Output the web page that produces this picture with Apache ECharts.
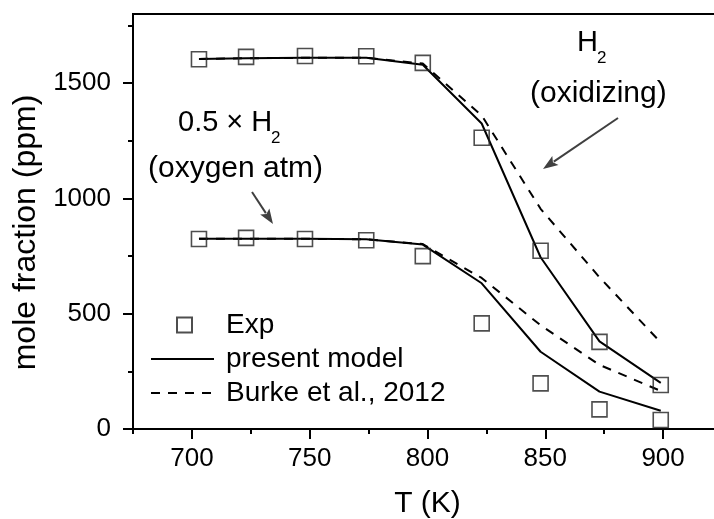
<!DOCTYPE html>
<html><head><meta charset="utf-8">
<script src="https://cdn.jsdelivr.net/npm/echarts@6/dist/echarts.min.js"></script>
<style>html,body{margin:0;padding:0;background:#fff}#c{width:714px;height:519px}</style>
</head><body><div id="c"></div>
<script>
// ---- data ----
const temps      = [703, 723, 748, 774, 798, 823, 848, 873, 899];
const expUpper   = [1604, 1614, 1618, 1617, 1588, 1263, 773, 378, 191];
const expLower   = [824, 829, 824, 819, 750, 458, 198, 85, 39];
const modelUpper = [1605, 1608, 1610, 1610, 1580, 1325, 745, 380, 200];
const modelLower = [825, 825, 825, 823, 800, 632, 335, 162, 79];
const burkeUpper = [1605, 1608, 1610, 1610, 1585, 1360, 955, 658, 375];
const burkeLower = [825, 825, 825, 823, 802, 655, 450, 278, 165];
const xMajorTicks = [700, 750, 800, 850, 900];
const xMinorTicks = [675, 725, 775, 825, 875, 925];
const yMajorTicks = [0, 500, 1000, 1500];
const yMinorTicks = [250, 750, 1250, 1750];

const FONT = "'Liberation Sans', Arial, sans-serif";
const pairs = arr => temps.map((t, i) => [t, arr[i]]);

const chart = echarts.init(document.getElementById('c'), null, {renderer: 'canvas'});

function arrow(x1, y1, x2, y2, color) {
  const dx = x2 - x1, dy = y2 - y1, L = Math.hypot(dx, dy);
  const ux = dx / L, uy = dy / L, hl = 15, hw = 5.5;
  const bx = x2 - ux * hl, by = y2 - uy * hl;
  return [
    {type: 'line', shape: {x1: x1, y1: y1, x2: bx + ux * 2, y2: by + uy * 2},
     style: {stroke: color, lineWidth: 2}, z: 10},
    {type: 'polygon', shape: {points: [[x2, y2], [bx - uy * hw, by + ux * hw], [bx + ux * 3, by + uy * 3], [bx + uy * hw, by - ux * hw]]},
     style: {fill: color}, z: 10}
  ];
}

const lineSeries = (name, arr, dashed) => ({
  type: 'line', name: name, data: pairs(arr), symbol: 'none', showSymbol: false,
  xAxisIndex: 0, yAxisIndex: 0,
  lineStyle: {color: '#000', width: 2, type: dashed ? [9, 8] : 'solid'},
  itemStyle: {color: 'transparent', borderWidth: 0},
  z: 2, silent: true
});
const expSeries = arr => ({
  type: 'scatter', name: 'Exp', data: pairs(arr), symbol: 'rect', symbolSize: 15,
  xAxisIndex: 0, yAxisIndex: 0,
  itemStyle: {color: 'transparent', borderColor: '#222', borderWidth: 1.6},
  z: 3, silent: true
});

const axisCommon = {
  axisLine: {show: true, lineStyle: {color: '#000', width: 2}},
  splitLine: {show: false}
};
const plain = v => String(v);

chart.setOption({
  animation: false,
  backgroundColor: '#fff',
  grid: {left: 133, top: 14, width: 589, height: 415, show: true, borderColor: '#000', borderWidth: 2,
         backgroundColor: 'transparent', outerBoundsMode: 'none', containLabel: false},
  xAxis: [
    Object.assign({}, axisCommon, {
      type: 'value', min: 675, max: 925, position: 'bottom',
      axisTick: {show: true, inside: false, length: 10, lineStyle: {color: '#000', width: 2}, customValues: xMajorTicks},
      axisLabel: {fontSize: 26, color: '#000', fontFamily: FONT, margin: 17, customValues: xMajorTicks, formatter: plain},
      name: 'T (K)', nameLocation: 'middle', nameGap: 60,
      nameTextStyle: {fontSize: 30, color: '#000', fontFamily: FONT}
    }),
    {
      type: 'value', min: 675, max: 925, position: 'bottom', offset: 0,
      axisLine: {show: false}, splitLine: {show: false}, axisLabel: {show: false},
      axisTick: {show: true, inside: false, length: 5, lineStyle: {color: '#000', width: 2}, customValues: xMinorTicks}
    }
  ],
  yAxis: [
    Object.assign({}, axisCommon, {
      type: 'value', min: 0, max: 1800, position: 'left',
      axisTick: {show: true, inside: false, length: 10, lineStyle: {color: '#000', width: 2}, customValues: yMajorTicks},
      axisLabel: {fontSize: 26, color: '#000', fontFamily: FONT, margin: 22, customValues: yMajorTicks, formatter: plain},
      name: 'mole fraction (ppm)', nameLocation: 'middle', nameGap: 88,
      nameTextStyle: {fontSize: 32, color: '#000', fontFamily: FONT, padding: [0, 22, 0, 0]}
    }),
    {
      type: 'value', min: 0, max: 1800, position: 'left', offset: 0,
      axisLine: {show: false}, splitLine: {show: false}, axisLabel: {show: false},
      axisTick: {show: true, inside: false, length: 5, lineStyle: {color: '#000', width: 2}, customValues: yMinorTicks}
    }
  ],
  legend: [
    {
      data: ['Exp'],
      orient: 'vertical', left: 176, top: 311, padding: 0,
      itemWidth: 15, itemHeight: 15, itemGap: 6,
      textStyle: {fontSize: 28, color: '#000', fontFamily: FONT, padding: [0, 0, 0, 29]},
      selectedMode: false
    },
    {
      data: ['present model', 'Burke et al., 2012'],
      orient: 'vertical', left: 150, top: 345, padding: 0,
      itemWidth: 63, itemHeight: 14, itemGap: 6,
      textStyle: {fontSize: 28, color: '#000', fontFamily: FONT, padding: [0, 0, 0, 7]},
      selectedMode: false
    }
  ],
  series: [
    lineSeries('present model', modelUpper, false),
    lineSeries('present model', modelLower, false),
    lineSeries('Burke et al., 2012', burkeUpper, true),
    lineSeries('Burke et al., 2012', burkeLower, true),
    expSeries(expUpper),
    expSeries(expLower)
  ],
  graphic: [
    {type: 'text', left: 178, top: 108, style: {text: '0.5 × H', fill: '#000', font: '29px ' + FONT}},
    {type: 'text', left: 271, top: 130, style: {text: '2', fill: '#000', font: '17px ' + FONT}},
    {type: 'text', left: 148, top: 154, style: {text: '(oxygen atm)', fill: '#000', font: '30px ' + FONT}},
    {type: 'text', left: 577, top: 28, style: {text: 'H', fill: '#000', font: '29px ' + FONT}},
    {type: 'text', left: 597, top: 50, style: {text: '2', fill: '#000', font: '17px ' + FONT}},
    {type: 'text', left: 530, top: 79, style: {text: '(oxidizing)', fill: '#000', font: '30px ' + FONT}}
  ].concat(arrow(618, 118, 543, 169, '#404040'), arrow(252, 192, 273, 224, '#404040'))
});
</script>
</body></html>
